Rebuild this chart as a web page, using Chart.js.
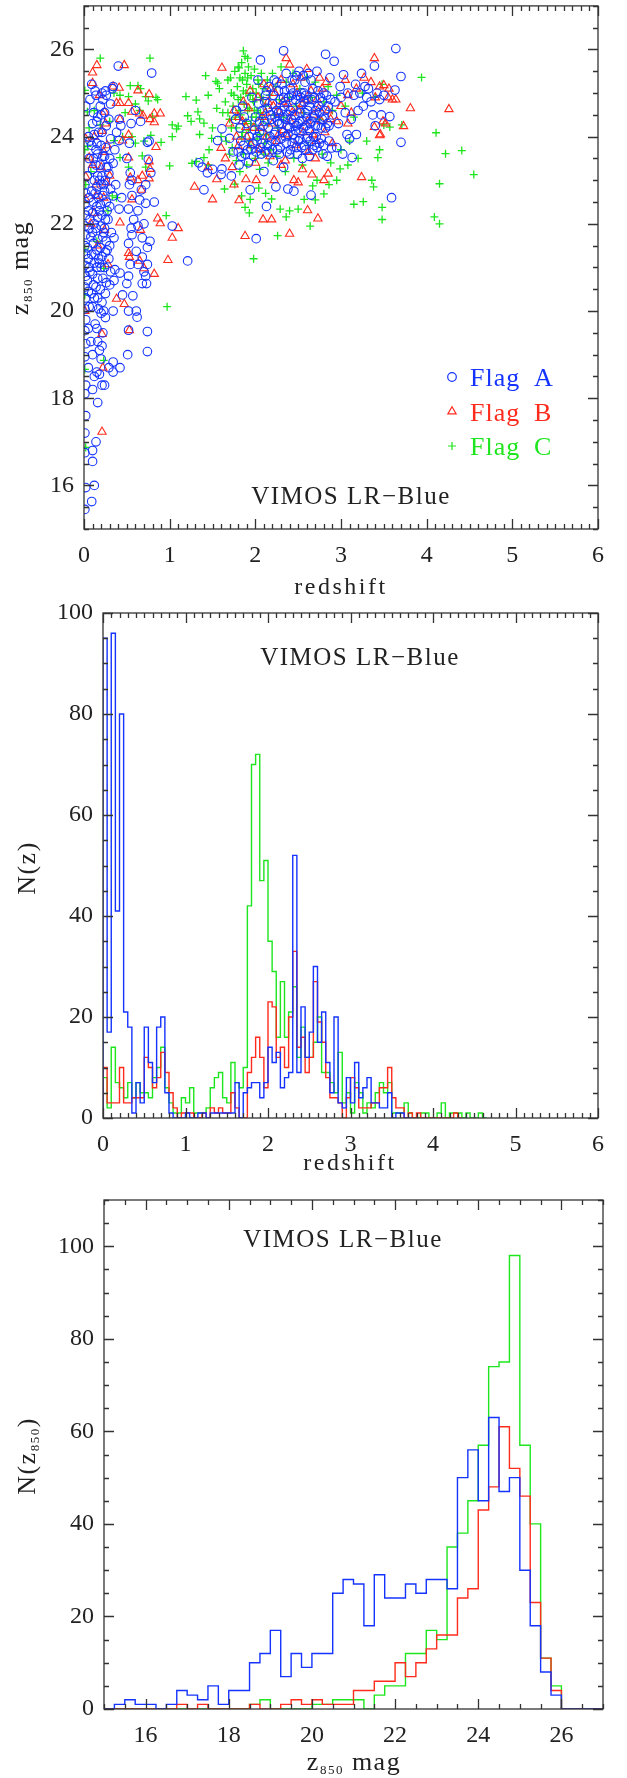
<!DOCTYPE html>
<html>
<head>
<meta charset="utf-8">
<script src="https://cdn.jsdelivr.net/npm/chart.js@4.4.1/dist/chart.umd.min.js"></script>
<style>
  html, body { margin: 0; padding: 0; background: #fff; }
  body { width: 627px; height: 1778px; position: relative; overflow: hidden; }
  canvas { position: absolute; left: 0; }
</style>
</head>
<body>
<canvas id="magChart" width="627" height="600" style="top:0px"></canvas>
<canvas id="nzChart" width="627" height="580" style="top:600px"></canvas>
<canvas id="nmagChart" width="627" height="598" style="top:1180px"></canvas>
<script>
// z850 magnitude against redshift, one list per quality flag: [redshift, mag]
const flagA = [
  [0.01,15.45],[0.02,15.95],[0.01,16.75],[0.01,17.2],[0.02,17.6],[0.01,18.1],[0.02,18.3],[0.01,18.95],[0.02,19.25],[0.01,19.55],
  [0.02,19.8],[0.01,20.05],[0.02,20.3],[0.01,20.55],[0.02,20.8],[0.01,21.05],[0.02,21.3],[0.01,21.5],[0.02,21.75],[0.01,21.95],
  [0.02,22.2],[0.01,22.45],[0.02,22.7],[0.01,22.9],[0.02,24.7],
  [0.05,19.6],[0.06,20.1],[0.05,20.45],[0.04,20.7],[0.06,21.0],[0.05,21.2],[0.04,21.45],[0.06,21.9],[0.05,22.3],[0.06,22.6],
  [0.04,23.1],[0.06,23.5],[0.05,24.0],[0.07,24.85],[0.05,18.7],
  [0.09,15.63],[0.10,16.55],[0.10,16.8],[0.12,16.0],[0.14,17.0],[0.10,18.2],[0.12,18.5],[0.10,19.0],[0.13,19.7],[0.10,20.1],
  [0.09,20.4],[0.11,20.6],[0.10,20.85],[0.12,21.1],[0.09,21.3],[0.11,21.55],[0.10,21.8],[0.12,22.0],[0.10,22.25],[0.11,22.5],
  [0.09,22.75],[0.12,23.0],[0.10,23.25],[0.11,23.5],[0.09,23.8],[0.12,24.05],[0.10,24.3],[0.11,24.55],[0.13,25.05],[0.09,25.2],
  [0.16,17.9],[0.15,18.6],[0.16,19.3],[0.15,19.6],[0.16,20.3],[0.14,20.55],[0.16,20.75],[0.15,21.0],[0.17,21.2],[0.15,21.4],
  [0.16,21.65],[0.14,21.9],[0.16,22.15],[0.15,22.4],[0.17,22.6],[0.15,22.85],[0.16,23.1],[0.14,23.35],[0.16,23.6],[0.15,23.85],
  [0.17,24.1],[0.15,24.35],[0.16,24.45],[0.14,24.95],[0.18,19.1],
  [0.18,18.55],[0.21,18.3],[0.20,18.9],[0.21,19.2],[0.22,19.5],[0.20,19.95],[0.21,20.2],[0.19,20.5],[0.22,20.75],[0.20,21.0],
  [0.21,21.25],[0.19,21.45],[0.22,21.7],[0.20,21.95],[0.21,22.2],[0.19,22.45],[0.22,22.65],[0.20,22.9],[0.21,23.1],[0.19,23.35],
  [0.22,23.55],[0.20,23.8],[0.21,24.1],[0.20,24.5],[0.22,24.85],[0.21,25.0],
  [0.24,18.3],[0.25,19.85],[0.25,20.4],[0.26,20.65],[0.24,21.0],[0.25,21.35],[0.26,21.6],[0.24,21.9],[0.25,22.1],[0.26,22.5],
  [0.24,22.75],[0.25,23.0],[0.26,23.3],[0.24,23.55],[0.25,23.75],[0.26,24.25],[0.24,24.55],[0.26,24.95],[0.25,25.05],
  [0.29,18.7],[0.30,20.6],[0.31,20.9],[0.29,21.2],[0.30,21.5],[0.32,21.8],[0.28,22.1],[0.30,22.4],[0.31,22.8],[0.29,23.15],
  [0.30,23.5],[0.31,23.95],[0.29,24.4],[0.31,24.75],[0.33,25.1],
  [0.07,22.1],[0.08,21.7],[0.07,20.9],[0.13,22.7],[0.13,21.3],[0.18,22.3],[0.18,21.1],[0.18,23.0],[0.23,21.8],[0.23,22.9],
  [0.27,21.4],[0.27,22.3],[0.12,20.3],[0.17,20.05],[0.19,24.7],[0.08,19.3],[0.14,23.7],[0.23,20.0],[0.28,23.3],[0.07,23.9],
  [0.34,18.6],[0.34,18.83],[0.34,20.0],[0.35,20.7],[0.36,20.95],[0.35,21.68],[0.37,22.9],[0.34,22.64],[0.34,23.39],[0.36,23.7],
  [0.38,24.1],[0.34,25.15],[0.40,25.62],[0.41,23.91],[0.42,20.87],[0.42,18.7],[0.41,22.34],[0.41,24.4],[0.44,22.6],[0.45,20.37],[0.43,24.25],
  [0.51,19.0],[0.52,19.56],[0.52,20.0],[0.50,20.63],[0.52,20.8],[0.54,21.07],[0.52,21.55],[0.56,21.75],[0.52,22.34],[0.56,22.65],
  [0.54,23.17],[0.53,22.9],[0.55,21.9],[0.57,20.35],[0.50,23.5],[0.53,23.85],[0.55,24.3],[0.58,22.1],[0.56,23.0],
  [0.61,20.0],[0.62,19.86],[0.63,21.07],[0.61,21.37],[0.63,21.95],[0.63,22.3],[0.60,24.6],[0.66,24.35],[0.67,22.78],[0.68,20.63],
  [0.68,21.24],[0.68,21.68],[0.72,20.8],[0.72,22.47],[0.72,22.9],[0.73,20.63],[0.74,19.07],[0.74,19.53],[0.74,21.07],[0.74,21.46],
  [0.74,23.87],[0.75,23.48],[0.78,23.17],[0.79,25.46],[0.82,22.5],[0.70,22.0],[0.65,22.55],[0.77,21.6],[0.70,20.9],[0.76,23.9],
  [1.03,21.95],[1.21,21.15],
  [1.34,23.4],[1.40,22.78],[1.44,23.17],[1.38,23.3],[1.50,23.25],[1.56,23.91],[1.60,23.13],[1.61,23.26],[1.61,24.18],[1.70,23.96],
  [1.74,23.65],[1.72,23.1],[1.77,24.4],[1.78,24.6],[1.80,23.65],[1.81,23.35],[1.82,24.2],[1.84,23.55],[1.85,24.7],[1.86,23.8],
  [1.88,23.6],[1.90,24.3],[1.92,23.4],[1.94,22.78],[1.95,23.7],[1.96,24.9],[1.98,23.55],[2.00,24.45],[2.01,21.66],[2.02,23.9],
  [2.03,25.3],[2.05,24.1],[2.06,25.76],[2.07,23.6],[2.08,24.6],[2.10,23.2],[2.11,24.35],[2.12,24.95],[2.13,22.4],[2.14,23.8],
  [2.15,24.2],[2.16,25.15],[2.18,24.5],[2.19,23.9],[2.20,24.75],[2.21,23.45],[2.22,25.3],[2.23,24.1],[2.24,22.85],[2.25,24.6],
  [2.26,23.7],[2.27,25.05],[2.28,24.3],[2.29,24.85],[2.30,23.95],[2.31,25.2],[2.32,24.45],[2.33,25.97],[2.33,23.3],[2.34,24.7],
  [2.35,24.0],[2.36,25.45],[2.37,24.25],[2.38,22.8],[2.39,24.9],[2.40,23.6],[2.41,25.1],[2.42,24.4],[2.43,23.85],[2.44,24.65],
  [2.45,22.75],[2.46,25.3],[2.47,24.15],[2.48,23.75],[2.49,24.95],[2.50,24.3],[2.51,25.5],[2.52,23.95],[2.53,24.55],[2.54,25.0],
  [2.55,23.5],[2.56,24.2],[2.57,24.8],[2.58,25.25],[2.59,23.7],[2.60,24.45],[2.61,24.0],[2.62,25.45],[2.63,24.7],[2.64,23.9],
  [2.65,22.66],[2.66,24.35],[2.67,25.1],[2.68,24.0],[2.69,23.8],[2.70,24.6],[2.72,25.5],[2.73,24.25],[2.75,23.85],[2.76,24.9],
  [2.78,24.4],[2.79,23.6],[2.80,25.0],[2.82,25.89],[2.82,24.2],[2.84,23.55],[2.85,24.7],[2.87,25.35],[2.89,23.74],[2.90,24.5],
  [2.92,25.73],[2.93,24.8],[2.95,23.75],[2.97,24.3],[2.99,25.15],[3.00,24.9],[3.02,23.6],[3.03,25.42],[3.05,24.55],[3.07,24.05],
  [3.08,25.0],[3.10,23.95],[3.12,24.4],[3.13,23.52],[3.15,24.95],[3.17,25.2],[3.18,24.05],[3.20,24.6],[3.22,25.0],[3.24,25.45],
  [3.26,24.7],[3.28,25.15],[3.30,24.9],[3.32,25.1],[3.35,24.8],[3.37,24.5],[3.39,25.62],[3.40,24.25],[3.42,25.0],[3.45,24.85],
  [3.47,24.5],[3.50,24.95],[3.57,24.46],[3.59,22.6],[3.63,25.07],[3.64,26.02],[3.70,25.38],[3.70,23.87],
  [2.02,24.0],[2.04,24.75],[2.06,23.75],[2.09,24.25],[2.12,23.65],[2.14,24.65],[2.17,24.0],[2.20,23.7],[2.23,24.45],[2.25,25.25],
  [2.28,23.6],[2.30,24.6],[2.32,24.1],[2.35,24.8],[2.37,23.65],[2.40,24.2],[2.42,24.95],[2.44,24.05],[2.46,24.5],[2.48,25.4],
  [2.50,23.9],[2.52,24.75],[2.55,24.35],[2.57,23.8],[2.59,24.95],[2.61,24.6],[2.63,24.15],[2.66,24.85],[2.68,24.45],[2.71,24.0],
  [2.74,24.7],[2.77,24.2],[2.80,24.45],[2.83,24.95],[2.86,24.25],[1.83,23.9],[1.87,24.45],[1.91,23.7],[1.93,24.0],[1.97,23.85],
  [1.99,24.15],[2.01,23.65],
  [2.05,24.35],[2.08,23.85],[2.11,24.8],[2.13,25.05],[2.16,23.65],[2.19,24.4],[2.21,24.95],[2.24,23.9],[2.26,24.35],[2.29,23.75],
  [2.31,24.3],[2.34,25.05],[2.36,23.85],[2.38,24.5],[2.41,23.7],[2.43,25.3],[2.45,24.3],[2.47,24.85],[2.49,23.6],[2.51,24.1],
  [2.53,24.9],[2.54,23.75],[2.56,25.4],[2.58,24.55],[2.60,23.95],[2.62,24.85],[2.64,24.3],[2.65,25.3],[2.67,23.7],[2.69,24.9],
  [2.70,24.25],[2.72,23.75],[2.73,25.05],[2.75,24.55],[2.77,23.95],[2.78,24.8],[2.80,23.8],[2.81,24.6],[2.84,24.3],[2.86,23.9],
  [2.88,24.85],[2.38,24.05],[2.52,24.35],[2.46,23.95],[2.33,24.9],[2.27,24.55],[2.57,25.0],[2.63,23.55],[2.69,24.5],[2.41,24.6],
  [2.48,24.25],[2.35,24.4],[2.59,24.25],[2.22,24.05],[2.44,25.0]
];
const flagB = [
  [0.10,25.47],[0.15,25.64],[0.10,25.23],[0.47,25.64],[0.34,25.15],[0.41,25.12],[0.63,25.06],[0.76,24.97],[0.38,24.77],[0.42,24.77],
  [0.52,24.77],[0.56,24.57],[0.65,24.53],[0.69,24.48],[0.82,24.53],[0.89,24.53],[0.77,24.4],[0.82,24.33],[0.52,24.04],[0.45,23.91],
  [0.84,23.76],[0.76,23.43],[0.52,23.52],[0.77,23.26],[0.54,23.06],[0.63,23.0],[0.68,23.1],[0.76,23.04],[0.56,22.56],[0.67,22.78],
  [0.86,22.12],[0.89,22.01],[1.10,21.9],[1.03,21.68],[0.42,22.03],[0.66,21.86],[0.52,21.33],[0.53,21.24],[0.65,21.15],[0.98,21.17],
  [0.70,20.98],[0.82,20.85],[0.38,20.28],[0.47,20.16],[0.53,19.56],[0.21,19.47],[0.22,18.7],[0.21,17.23],[0.10,23.35],[0.12,22.25],
  [0.14,22.9],[0.02,22.56],[0.02,23.08],[0.23,23.65],[0.21,24.13],[0.24,24.57],[0.14,22.64],[0.06,23.52],[0.28,21.07],[0.42,24.4],
  [0.16,21.5],[0.24,21.86],[0.02,23.95],[0.25,24.3],[0.18,24.95],[0.30,23.1],[0.12,24.0],[0.20,23.3],[0.26,22.95],[0.01,20.0],
  [0.08,22.0],[0.27,23.8],[0.23,22.6],
  [1.61,25.58],[1.88,21.72],[2.40,21.77],[2.09,22.1],[2.19,22.1],[2.73,22.12],[2.61,22.31],[1.50,22.56],[1.29,22.85],[1.81,22.54],
  [2.66,23.13],[2.45,23.0],[3.24,23.07],[3.45,24.03],[3.73,24.24],[3.81,24.65],[4.26,24.63],[3.39,25.8],[3.50,25.18],[3.64,24.85],
  [3.39,24.22],[3.49,24.35],[3.08,24.3],[2.22,23.0],[2.01,23.0],[1.89,23.02],[1.55,23.02],[1.60,23.74],[1.80,23.78],[1.89,24.22],
  [2.36,25.8],[2.40,25.65],[2.60,25.55],[2.75,25.35],[3.27,25.35],[3.35,25.25],[3.45,25.15],[3.55,24.9],[3.40,24.9],[3.08,24.95],
  [1.75,24.6],[1.78,24.0],[1.85,24.35],[1.92,24.65],[1.95,23.8],[1.98,24.2],[2.03,24.9],[2.05,23.7],[2.08,24.45],[2.10,25.2],
  [2.13,24.0],[2.15,24.8],[2.17,23.55],[2.20,24.3],[2.23,25.0],[2.25,23.9],[2.28,24.55],[2.30,25.3],[2.33,24.15],[2.35,23.45],
  [2.38,24.75],[2.41,24.35],[2.44,25.2],[2.47,23.8],[2.50,24.6],[2.53,25.35],[2.56,24.1],[2.59,24.85],[2.62,23.65],[2.65,25.05],
  [2.68,24.5],[2.71,23.9],[2.74,24.65],[2.78,25.1],[2.81,24.1],[2.85,24.6],[2.90,23.85],[2.95,24.35],[3.00,24.7],[3.05,25.3],
  [3.12,24.55],[3.18,25.1],[1.65,23.5],[1.70,24.3],[1.73,23.3],[2.00,23.4],[2.30,23.35],[2.55,23.25],[2.70,23.5],[2.85,23.15],
  [3.46,24.05],[3.52,24.3],[3.56,25.1],[3.60,24.85],[1.45,23.3],[1.75,22.9],[2.50,22.95],[2.80,23.0],
  [1.80,24.45],[1.86,24.8],[1.90,24.0],[1.94,25.05],[2.07,24.2],[2.12,24.55],[2.18,25.1],[2.21,24.7],[2.27,24.05],[2.32,24.8],
  [2.37,24.05],[2.43,24.55],[2.49,25.0],[2.55,24.75],[2.61,24.35],[2.67,24.05],[2.72,24.85],[2.77,24.35],[2.83,25.25],[2.88,24.4]
];
const flagC = [
  [0.19,25.8],[0.77,25.8],[0.54,25.17],[0.63,25.17],[0.42,24.95],[0.52,24.92],[0.72,24.92],[0.84,24.9],[0.75,24.82],[0.04,24.57],
  [0.04,23.78],[0.42,23.52],[0.52,23.3],[0.68,23.56],[0.72,23.3],[0.56,24.0],[0.45,24.0],[0.35,23.91],[0.78,24.03],[0.90,23.87],
  [1.03,24.0],[1.03,24.27],[1.10,24.24],[1.08,24.18],[1.00,23.33],[0.96,22.19],[0.97,20.1],[0.23,20.98],[0.23,18.87],[0.01,18.66],
  [0.01,20.37],[0.01,21.42],[0.33,22.64],[0.19,24.27],[0.01,25.06],[0.38,22.6],[0.02,16.87],[0.60,24.75],[0.65,24.6],[0.70,23.9],
  [0.48,24.55],[0.30,24.35],[0.12,24.6],[0.08,23.2],[0.28,22.3],[0.15,21.6],[0.60,23.85],[0.80,24.45],[0.86,24.85],[0.02,22.9],
  [0.01,23.7],[0.06,24.2],[0.66,25.1],[0.35,25.0],
  [1.86,25.97],[1.88,25.84],[1.91,25.8],[1.81,25.58],[1.42,25.4],[1.54,25.27],[1.56,25.23],[1.19,24.92],[1.31,24.84],[1.45,24.95],
  [1.33,24.57],[1.21,24.48],[1.35,24.41],[1.25,24.35],[1.35,24.05],[1.40,24.31],[1.49,23.96],[1.40,23.52],[1.26,23.39],[1.45,23.35],
  [1.31,23.43],[1.76,22.91],[1.84,22.64],[1.88,22.38],[1.94,22.56],[2.04,22.82],[2.19,22.57],[2.29,22.34],[2.36,22.16],[2.26,21.73],
  [1.98,21.2],[2.50,22.34],[2.57,22.56],[2.64,21.95],[2.67,22.87],[2.80,22.69],[2.99,23.26],[3.36,23.0],[3.26,22.51],[3.48,22.38],
  [3.48,22.1],[3.43,23.52],[3.94,25.36],[4.11,24.09],[4.22,23.61],[4.41,23.68],[4.55,23.13],[4.15,22.92],[4.09,22.16],[4.15,22.0],
  [3.50,24.27],[3.57,24.22],[3.08,23.35],[3.71,24.27],
  [1.65,24.8],[1.68,25.3],[1.70,24.4],[1.72,25.0],[1.74,24.7],[1.76,25.5],[1.78,24.2],[1.79,25.15],[1.80,24.85],[1.82,25.35],
  [1.83,24.5],[1.84,25.7],[1.85,24.1],[1.86,25.05],[1.87,24.75],[1.88,25.45],[1.89,24.35],[1.90,25.2],[1.91,24.6],[1.92,25.6],
  [1.93,23.9],[1.94,24.95],[1.95,25.4],[1.96,24.45],[1.97,25.1],[1.98,24.8],[1.99,25.55],[2.00,24.25],[2.01,25.0],[2.02,24.6],
  [2.03,25.3],[2.05,24.05],[2.06,24.9],[2.07,25.45],[2.08,24.4],[2.10,25.1],[2.11,23.85],[2.12,24.7],[2.14,25.3],[2.15,24.3],
  [2.17,24.95],[2.18,23.7],[2.20,25.45],[2.22,24.5],[2.24,25.15],[2.26,24.2],[2.28,24.85],[2.30,25.6],[2.33,24.45],[2.36,25.25],
  [2.40,24.9],[2.44,25.45],[2.48,24.7],[2.52,25.1],[2.56,24.55],[2.60,25.35],[2.65,24.9],[2.70,25.25],[2.75,24.4],[2.80,24.8],
  [2.85,25.15],[2.90,24.6],[2.95,24.95],[3.05,24.7],[3.15,24.45],[3.25,25.0],[3.40,24.9],[3.48,25.2],[1.60,24.0],[1.62,24.55],
  [1.66,23.9],[1.70,23.6],[1.73,23.75],[1.78,23.45],[1.82,23.2],[1.86,23.6],[1.90,23.35],[1.95,23.75],[2.00,23.5],[2.05,23.25],
  [2.10,23.6],[2.15,23.4],[2.25,23.55],[2.35,23.2],[2.45,23.5],[2.55,23.35],[2.62,23.8],[2.72,23.0],[2.78,23.6],[2.88,23.4],
  [2.95,23.0],[3.00,23.7],[3.10,23.9],[3.20,23.5],[3.30,23.9],[3.45,23.7],[1.55,24.65],[1.58,25.1],[1.50,24.2],[1.46,23.7],
  [1.64,22.8],[1.93,22.25],[2.12,22.7],[2.40,22.3],[2.70,22.55],[2.86,22.9],[3.15,22.45],[3.38,22.85],
  [1.72,24.2],[1.75,24.95],[1.77,24.45],[1.80,25.6],[1.81,24.6],[1.83,24.9],[1.85,25.3],[1.87,24.3],[1.89,25.0],[1.91,25.35],
  [1.93,24.65],[1.95,24.3],[1.97,24.85],[1.99,24.6],[2.01,24.45],[2.04,25.2],[2.06,24.55],[2.09,24.85],[1.68,24.55],[1.71,25.35],
  [1.84,24.0],[1.92,24.15],[2.02,23.95],[2.13,24.05]
];

// N(z): counts per 0.05 redshift bin, first bin starts at z = 0
const zBinStart = 0;
const zBinWidth = 0.05;
const nzFlagA = [
  95,17,96,41,80,21,18,1,7,3,
  18,11,7,18,20,5,1,0,0,0,
  1,0,0,1,1,0,1,1,1,1,
  1,1,7,0,5,6,7,7,4,7,
  14,11,13,6,8,9,52,9,22,12,
  17,30,15,21,11,5,20,3,2,8,
  3,11,4,6,8,3,3,2,2,5,
  0,1,1,0,0
];
const nzFlagB = [
  10,3,3,3,10,3,3,4,4,4,
  12,10,6,8,13,9,5,2,0,1,
  1,1,0,0,1,0,2,1,2,1,
  1,5,2,0,0,9,12,16,12,6,
  23,22,12,14,10,20,33,14,16,9,
  12,27,19,15,8,4,4,3,0,4,
  8,6,2,2,2,3,3,6,6,10,
  4,2,2,0,1,0,1,0,0,0,
  0,0,0,0,0,1,0
];
const nzFlagC = [
  8,2,14,7,6,4,7,4,7,5,
  5,4,8,10,14,6,3,1,1,4,
  3,6,1,1,1,2,6,8,9,4,
  3,11,7,6,10,42,70,72,47,51,
  35,29,16,27,16,21,26,12,18,12,
  12,15,20,9,9,7,5,13,3,5,
  1,7,5,1,3,2,5,7,5,7,
  1,1,1,3,1,0,0,1,1,0,
  0,1,3,0,1,1,1,0,1,0,
  0,1,0
];

// N(z850): counts per 0.25 mag bin, first bin starts at 15
const magBinStart = 15;
const magBinWidth = 0.25;
const nmFlagA = [0,1,2,1, 1,0,1,4, 3,2,5,1, 4,4,10,12, 17,7,12,9, 12,12,25,28, 27,18,29,24, 24,27,25,28, 28,26,50,56, 45,63,47,50, 30,18,8,3, 0,0,0,0];
const nmFlagB = [0,0,0,0, 0,0,0,1, 0,1,0,0, 0,0,1,0, 0,1,2,1, 2,1,1,1, 4,4,6,6, 10,7,10,13, 16,16,24,26, 43,48,61,52, 46,23,11,4, 0,0,0,0];
const nmFlagC = [0,0,0,0, 0,0,0,0, 0,0,0,0, 0,0,1,2, 0,0,0,0, 1,1,2,2, 2,0,3,5, 5,12,12,17, 15,35,38,45, 57,74,75,98, 57,40,11,5, 0,0,0,0];

const redshiftTicks = [0, 1, 2, 3, 4, 5, 6];
const magTicks = [16, 18, 20, 22, 24, 26];
const countTicks = [0, 20, 40, 60, 80, 100];

const blue = '#1433ff', red = '#ff2b1c', green = '#1ee61e';
const ink = '#222';
const serif = '"Liberation Serif", "DejaVu Serif", serif';

Chart.defaults.font.family = serif;
Chart.defaults.color = ink;

// histogram counts -> step line points (left edges plus closing edge)
function steps(counts, start, width) {
  const pts = [{ x: start, y: 0 }];
  counts.forEach((c, i) => pts.push({ x: start + i * width, y: c }));
  pts.push({ x: start + counts.length * width, y: 0 });
  return pts;
}

function axes(xr, xTicks, yr, yTicks, yWidth, xHeight) {
  const tickFont = { family: serif, size: 24 };
  return {
    x: {
      type: 'linear', min: xr[0], max: xr[1],
      grid: { display: false, drawTicks: false }, border: { display: false },
      afterBuildTicks: s => { s.ticks = xTicks.map(v => ({ value: v })); },
      afterFit: s => { s.height = xHeight; s.paddingLeft = 0; s.paddingRight = 0; },
      ticks: { padding: 12, color: ink, font: tickFont, maxRotation: 0, autoSkip: false }
    },
    y: {
      type: 'linear', min: yr[0], max: yr[1],
      grid: { display: false, drawTicks: false }, border: { display: false },
      afterBuildTicks: s => { s.ticks = yTicks.map(v => ({ value: v })); },
      afterFit: s => { s.width = yWidth; s.paddingTop = 0; s.paddingBottom = 0; },
      ticks: { padding: 10, color: ink, font: tickFont, autoSkip: false }
    }
  };
}

// box frame with IDL style inward ticks on all four sides
const frameTicks = {
  id: 'frameTicks',
  afterDraw(chart, args, o) {
    const ctx = chart.ctx, a = chart.chartArea;
    const sx = chart.scales.x, sy = chart.scales.y;
    const major = (v, m) => Math.abs(v / m - Math.round(v / m)) < 1e-6;
    ctx.save();
    ctx.strokeStyle = '#333';
    ctx.lineWidth = 1.3;
    ctx.beginPath();
    let n = Math.round((sx.max - sx.min) / o.xMinor);
    for (let i = 0; i <= n; i++) {
      const v = sx.min + i * o.xMinor;
      const p = Math.round(sx.getPixelForValue(v)) + 0.5;
      const len = major(v, o.xMajor) ? 10 : 5;
      ctx.moveTo(p, a.bottom); ctx.lineTo(p, a.bottom - len);
      ctx.moveTo(p, a.top); ctx.lineTo(p, a.top + len);
    }
    n = Math.round((sy.max - sy.min) / o.yMinor);
    for (let i = 0; i <= n; i++) {
      const v = sy.min + i * o.yMinor;
      const p = Math.round(sy.getPixelForValue(v)) + 0.5;
      const len = major(v, o.yMajor) ? 10 : 5;
      ctx.moveTo(a.left, p); ctx.lineTo(a.left + len, p);
      ctx.moveTo(a.right, p); ctx.lineTo(a.right - len, p);
    }
    ctx.stroke();
    ctx.strokeRect(a.left, a.top, a.right - a.left, a.bottom - a.top);
    ctx.restore();
  }
};

// titles with subscripts; parts are [text, size, drop]
function drawParts(ctx, parts, spacing) {
  ctx.letterSpacing = (spacing || 0) + 'px';
  let w = 0;
  parts.forEach(p => { ctx.font = p[1] + 'px ' + serif; w += ctx.measureText(p[0]).width; });
  let x = -w / 2;
  parts.forEach(p => {
    ctx.font = p[1] + 'px ' + serif;
    ctx.fillText(p[0], x, p[2] || 0);
    x += ctx.measureText(p[0]).width;
  });
}

const panelText = {
  id: 'panelText',
  afterDraw(chart, args, o) {
    const ctx = chart.ctx;
    (o.items || []).forEach(it => {
      ctx.save();
      ctx.fillStyle = it.color || ink;
      ctx.textBaseline = 'alphabetic';
      ctx.textAlign = 'left';
      ctx.translate(it.x, it.y);
      if (it.rotate) ctx.rotate(it.rotate * Math.PI / 180);
      drawParts(ctx, it.parts, it.spacing);
      ctx.restore();
    });
    if (o.legend) {
      const L = o.legend;
      chart.data.datasets.forEach((ds, i) => {
        const y = L.y + i * L.gap;
        ctx.save();
        ctx.strokeStyle = ds.pointBorderColor;
        ctx.fillStyle = 'rgba(0,0,0,0)';
        ctx.lineWidth = 1.2;
        Chart.helpers.drawPoint(ctx, { pointStyle: ds.pointStyle, radius: ds.pointRadius, borderWidth: 1.2, rotation: 0 }, L.x, y - 9);
        ctx.fillStyle = ds.pointBorderColor;
        ctx.font = '26px ' + serif;
        ctx.letterSpacing = '1px';
        ctx.textBaseline = 'alphabetic';
        const words = ds.label.split(' ');
        ctx.fillText(words[0], L.x + 18, y);
        ctx.fillText(words[1], L.x + 82, y);
        ctx.restore();
      });
    }
  }
};

Chart.register(frameTicks, panelText);

const z850 = (size, sub, drop) => [['z', size], ['850', sub, drop]];

// top panel: magnitude against redshift
new Chart(document.getElementById('magChart'), {
  type: 'scatter',
  data: {
    datasets: [
      { label: 'Flag A', data: flagA.map(p => ({ x: p[0], y: p[1] })), pointStyle: 'circle', pointRadius: 4.3,
        pointBorderColor: blue, pointBackgroundColor: 'rgba(0,0,0,0)', pointBorderWidth: 1.1 },
      { label: 'Flag B', data: flagB.map(p => ({ x: p[0], y: p[1] })), pointStyle: 'triangle', pointRadius: 4.8,
        pointBorderColor: red, pointBackgroundColor: 'rgba(0,0,0,0)', pointBorderWidth: 1.1 },
      { label: 'Flag C', data: flagC.map(p => ({ x: p[0], y: p[1] })), pointStyle: 'cross', pointRadius: 4,
        pointBorderColor: green, pointBackgroundColor: 'rgba(0,0,0,0)', pointBorderWidth: 1.3 }
    ]
  },
  options: {
    responsive: false, animation: false, events: [],
    layout: { padding: { top: 5, right: 29, left: 0, bottom: 0 } },
    scales: axes([0, 6], redshiftTicks, [15, 27], magTicks, 84, 71),
    plugins: {
      legend: { display: false }, tooltip: { enabled: false },
      frameTicks: { xMinor: 0.1, xMajor: 1, yMinor: 0.5, yMajor: 2 },
      panelText: {
        items: [
          { parts: [['redshift', 24]], x: 341, y: 594, spacing: 2.5 },
          { parts: z850(26, 13, 4).concat([[' mag', 26]]), x: 28, y: 268, rotate: -90, spacing: 1.5 },
          { parts: [['VIMOS LR\u2212Blue', 25]], x: 351, y: 504, spacing: 1.5 }
        ],
        legend: { x: 452, y: 386, gap: 34.5 }
      }
    }
  }
});

function histDatasets(a, b, c, start, width) {
  const style = col => ({ borderColor: col, borderWidth: 1.4, pointRadius: 0, stepped: 'before', fill: false, tension: 0 });
  return [
    Object.assign({ label: 'Flag A', data: steps(a, start, width) }, style(blue)),
    Object.assign({ label: 'Flag B', data: steps(b, start, width) }, style(red)),
    Object.assign({ label: 'Flag C', data: steps(c, start, width) }, style(green))
  ];
}

// middle panel: redshift distribution
new Chart(document.getElementById('nzChart'), {
  type: 'line',
  data: { datasets: histDatasets(nzFlagA, nzFlagB, nzFlagC, zBinStart, zBinWidth) },
  options: {
    responsive: false, animation: false, events: [],
    layout: { padding: { top: 13, right: 29, left: 0, bottom: 0 } },
    scales: axes([0, 6], redshiftTicks, [0, 100], countTicks, 103, 62),
    plugins: {
      legend: { display: false }, tooltip: { enabled: false },
      frameTicks: { xMinor: 0.1, xMajor: 1, yMinor: 5, yMajor: 20 },
      panelText: {
        items: [
          { parts: [['redshift', 24]], x: 350, y: 570, spacing: 2.5 },
          { parts: [['N(z)', 26]], x: 35, y: 268, rotate: -90, spacing: 1.5 },
          { parts: [['VIMOS LR\u2212Blue', 25]], x: 360, y: 65, spacing: 1.5 }
        ]
      }
    }
  }
});

// bottom panel: magnitude distribution
new Chart(document.getElementById('nmagChart'), {
  type: 'line',
  data: { datasets: histDatasets(nmFlagA, nmFlagB, nmFlagC, magBinStart, magBinWidth) },
  options: {
    responsive: false, animation: false, events: [],
    layout: { padding: { top: 20, right: 24, left: 0, bottom: 0 } },
    scales: axes([15, 27], magTicks, [0, 110], countTicks, 104, 69),
    plugins: {
      legend: { display: false }, tooltip: { enabled: false },
      frameTicks: { xMinor: 0.5, xMajor: 2, yMinor: 5, yMajor: 20 },
      panelText: {
        items: [
          { parts: z850(26, 13, 4).concat([[' mag', 26]]), x: 354, y: 590, spacing: 1.5 },
          { parts: [['N(z', 26], ['850', 13, 4], [')', 26]], x: 35, y: 276, rotate: -90, spacing: 1.5 },
          { parts: [['VIMOS LR\u2212Blue', 25]], x: 343, y: 67, spacing: 1.5 }
        ]
      }
    }
  }
});
</script>
</body>
</html>
